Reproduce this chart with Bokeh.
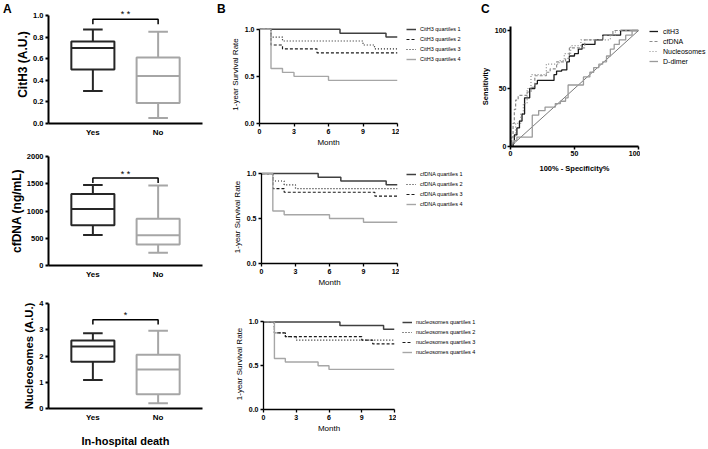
from bokeh.plotting import figure
from bokeh.layouts import row, column
from bokeh.models import FixedTicker, NumeralTickFormatter, Legend, LegendItem, Range1d, Div
from bokeh.core.properties import value
from bokeh.embed import file_html
from bokeh.resources import INLINE

FONT = "Liberation Sans"
DARK = "#262626"
GRAY = "#a6a6a6"

# ---------------- data ----------------
groups = ["Yes", "No"]
group_pos = [1, 2]
# five-number summaries: min, q1, median, q3, max
cith3_yes = [0.30, 0.50, 0.70, 0.76, 0.87]
cith3_no = [0.05, 0.19, 0.44, 0.61, 0.85]
cfdna_yes = [560, 740, 1035, 1310, 1475]
cfdna_no = [235, 385, 555, 860, 1470]
nuc_yes = [1.09, 1.78, 2.36, 2.59, 2.87]
nuc_no = [0.20, 0.54, 1.49, 2.05, 2.96]
cith3_ticks = [0, 0.2, 0.4, 0.6, 0.8, 1.0]
cfdna_ticks = [0, 500, 1000, 1500, 2000]
nuc_ticks = [0, 1, 2, 3, 4]

month_ticks = [0, 3, 6, 9, 12]
surv_ticks = [0, 0.5, 1.0]
# Kaplan-Meier steps (time in months, survival)
km_cith3 = {
    "t1": [0, 7, 11, 12], "s1": [1, 0.958, 0.917, 0.917],
    "t2": [0, 1, 2, 5, 12], "s2": [1, 0.833, 0.792, 0.75, 0.75],
    "t3": [0, 1, 2, 9, 10, 12], "s3": [1, 0.917, 0.875, 0.833, 0.792, 0.792],
    "t4": [0, 1, 2, 3, 6, 12], "s4": [1, 0.583, 0.542, 0.5, 0.458, 0.458],
}
km_cfdna = {
    "t1": [0, 5, 7, 11, 12], "s1": [1, 0.958, 0.917, 0.875, 0.875],
    "t2": [0, 1, 2, 3, 12], "s2": [1, 0.917, 0.875, 0.833, 0.833],
    "t3": [0, 1, 2, 10, 12], "s3": [1, 0.833, 0.792, 0.75, 0.75],
    "t4": [0, 1, 2, 6, 9, 12], "s4": [1, 0.583, 0.542, 0.5, 0.458, 0.458],
}
km_nuc = {
    "t1": [0, 7, 11, 12], "s1": [1, 0.958, 0.917, 0.917],
    "t2": [0, 1, 2, 3, 12], "s2": [1, 0.875, 0.833, 0.792, 0.792],
    "t3": [0, 1, 2, 9, 10, 12], "s3": [1, 0.875, 0.833, 0.792, 0.75, 0.75],
    "t4": [0, 1, 2, 5, 6, 12], "s4": [1, 0.583, 0.542, 0.5, 0.458, 0.458],
}
cith3_labels = ["CitH3 quartiles 1", "CitH3 quartiles 2", "CitH3 quartiles 3", "CitH3 quartiles 4"]
cfdna_labels = ["cfDNA quartiles 1", "cfDNA quartiles 2", "cfDNA quartiles 3", "cfDNA quartiles 4"]
nuc_labels = ["nucleosomes quartiles 1", "nucleosomes quartiles 2", "nucleosomes quartiles 3", "nucleosomes quartiles 4"]

# ROC curves (100% - specificity, sensitivity)
roc_cith3_x = [0, 2, 2, 3, 3, 5, 5, 7, 7, 9, 9, 11, 11, 15, 15, 19, 19, 21, 21, 34, 34, 36, 36, 40, 40, 44, 44, 46, 46, 50, 50, 53, 53, 56, 56, 66, 66, 72, 72, 86, 86, 100]
roc_cith3_y = [0, 0, 3, 3, 10, 10, 16, 16, 22, 22, 28, 28, 42, 42, 50, 50, 54, 54, 57, 57, 62, 62, 65, 65, 66, 66, 73, 73, 78, 78, 80, 80, 84, 84, 88, 88, 92, 92, 96, 96, 100, 100]
roc_cfdna_x = [0, 1, 1, 2, 2, 3, 3, 4, 4, 6, 6, 13, 13, 16, 16, 19, 19, 28, 28, 31, 31, 36, 36, 43, 43, 46, 46, 58, 58, 72, 72, 80, 80, 100]
roc_cfdna_y = [0, 0, 8, 8, 20, 20, 32, 32, 40, 40, 44, 44, 47, 47, 51, 51, 61, 61, 64, 64, 67, 67, 73, 73, 76, 76, 85, 85, 92, 92, 96, 96, 100, 100]
roc_nuc_x = [0, 1, 1, 4, 4, 8, 8, 10, 10, 13, 13, 16, 16, 28, 28, 38, 38, 42, 42, 47, 47, 55, 55, 78, 78, 82, 82, 100]
roc_nuc_y = [0, 0, 8, 8, 20, 20, 28, 28, 37, 37, 50, 50, 62, 62, 71, 71, 74, 74, 80, 80, 87, 87, 92, 92, 96, 96, 100, 100]
roc_dd_x = [0, 1, 1, 3, 3, 5, 5, 17, 17, 22, 22, 27, 27, 35, 35, 39, 39, 43, 43, 45, 45, 57, 57, 62, 62, 65, 65, 69, 69, 72, 72, 75, 75, 78, 78, 81, 81, 85, 85, 90, 90, 95, 95, 100]
roc_dd_y = [0, 0, 3, 3, 5, 5, 8, 8, 27, 27, 31, 31, 34, 34, 37, 37, 39, 39, 42, 42, 53, 53, 60, 60, 64, 64, 68, 68, 71, 71, 73, 73, 78, 78, 84, 84, 88, 88, 92, 92, 96, 96, 100, 100]
ref_x = [0, 100]
ref_y = [0, 100]
roc_labels = ["citH3", "cfDNA", "Nucleosomes", "D-dimer"]
roc_ticks = [0, 50, 100]
panel_letters = ["A", "B", "C"]


def base_fig(w, h, xr, yr, bl, br, bt, bb, axes=True):
    kw = {} if axes else dict(x_axis_type=None, y_axis_type=None)
    p = figure(width=w, height=h, x_range=Range1d(*xr), y_range=Range1d(*yr),
               output_backend="svg", toolbar_location=None,
               min_border_left=bl, min_border_right=br, min_border_top=bt, min_border_bottom=bb, **kw)
    p.outline_line_color = None
    p.grid.visible = False
    p.background_fill_color = "white"
    p.border_fill_color = "white"
    if axes:
        for ax in (p.xaxis[0], p.yaxis[0]):
            ax.minor_tick_line_color = None
            ax.axis_line_color = "black"
            ax.major_tick_line_color = "black"
            ax.major_label_text_font = FONT
            ax.axis_label_text_font = FONT
            ax.major_label_text_color = "black"
            ax.axis_label_text_color = "black"
    return p


def make_legend(items, font_size, row_h, spacing, glyph_w, standoff):
    return Legend(items=items, location="top_left", background_fill_alpha=0,
                  border_line_alpha=0, padding=0, margin=0, spacing=spacing,
                  glyph_width=glyph_w, glyph_height=row_h, label_height=row_h,
                  label_standoff=standoff, label_text_font=FONT,
                  label_text_font_size=font_size, label_text_color="black")


BW = 0.33
CW = 0.15


def box_panel(h, bt, bb, y_end, y_top, yticks, fmt, ylabel, ylabel_size, lab_standoff,
              yes, no, br_y, br_low, star_y, stars, xlabel=None):
    p = base_fig(222, h, (0.32, 2.68), (0, y_end), 48, 20, bt, bb)
    for pos, st, col in zip(group_pos, [yes, no], [DARK, GRAY]):
        mn, q1, md, q3, mx = st
        p.quad(left=[pos - BW], right=[pos + BW], bottom=[q1], top=[q3],
               fill_color=None, line_color=col, line_width=2)
        p.segment(x0=[pos - BW, pos, pos, pos - CW, pos - CW],
                  x1=[pos + BW, pos, pos, pos + CW, pos + CW],
                  y0=[md, mn, q3, mn, mx], y1=[md, q1, mx, mn, mx],
                  line_color=col, line_width=2)
    p.line(x=[group_pos[0], group_pos[0], group_pos[1], group_pos[1]],
           y=[br_low, br_y, br_y, br_low], line_color="black", line_width=1.5)
    p.text(x=[(group_pos[0] + group_pos[1]) / 2], y=[star_y], text=[stars],
           text_align="center", text_baseline="middle", text_font=value(FONT),
           text_font_size="9px", text_color="black")
    xa, ya = p.xaxis[0], p.yaxis[0]
    xa.ticker = FixedTicker(ticks=group_pos)
    xa.major_label_overrides = {group_pos[0]: groups[0], group_pos[1]: groups[1]}
    xa.major_tick_line_color = None
    xa.major_tick_out = 0
    xa.major_tick_in = 0
    xa.axis_line_width = 2
    xa.major_label_text_font_size = "8px"
    xa.major_label_text_font_style = "bold"
    xa.major_label_standoff = 4
    ya.ticker = FixedTicker(ticks=yticks)
    if fmt:
        ya.formatter = NumeralTickFormatter(format=fmt)
    ya.bounds = (0, y_top)
    ya.axis_line_width = 2
    ya.major_tick_line_width = 2
    ya.major_tick_out = 3
    ya.major_tick_in = 0
    ya.major_label_text_font_size = "7.5px"
    ya.major_label_text_font_style = "bold"
    ya.major_label_standoff = 2
    ya.axis_label = ylabel
    ya.axis_label_text_font_size = ylabel_size
    ya.axis_label_text_font_style = "bold"
    ya.axis_label_standoff = lab_standoff
    if xlabel:
        xa.axis_label = xlabel
        xa.axis_label_text_font_size = "11px"
        xa.axis_label_text_font_style = "bold"
        xa.axis_label_standoff = 10
    return p


def km_panel(w, h, bl, bt, bb, y_end, km, labels, styles, leg_left, leg_top):
    p = base_fig(w, h, (0, 12), (0, y_end), bl, 2, bt, bb)
    # legend lives in a separate axis-free figure to the right (same series, drawn off-range)
    q = base_fig(254 - w, h, (0, 1), (5, 6), leg_left, 0, leg_top, 0, axes=False)
    items = []
    for i, (lab, st) in enumerate(zip(labels, styles)):
        col, dash, lw = st
        t, s = km["t%d" % (i + 1)], km["s%d" % (i + 1)]
        p.step(x=t, y=s, mode="after", line_color=col, line_dash=dash, line_width=lw)
        r = q.step(x=t, y=s, mode="after", line_color=col, line_dash=dash, line_width=lw)
        items.append(LegendItem(label=lab, renderers=[r]))
    q.add_layout(make_legend(items, "5.5px", 8, 2, 10, 4))
    xa, ya = p.xaxis[0], p.yaxis[0]
    for ax in (xa, ya):
        ax.axis_line_width = 1.3
        ax.major_tick_line_width = 1.3
        ax.major_tick_out = 3
        ax.major_tick_in = 0
        ax.major_label_text_font_size = "7px"
        ax.major_label_text_font_style = "bold"
        ax.major_label_standoff = 2
        ax.axis_label_text_font_size = "8px"
        ax.axis_label_text_font_style = "normal"
        ax.axis_label_standoff = 2
    xa.axis_label_standoff = 1
    xa.ticker = FixedTicker(ticks=month_ticks)
    xa.axis_label = "Month"
    ya.ticker = FixedTicker(ticks=surv_ticks)
    ya.formatter = NumeralTickFormatter(format="0.0")
    ya.bounds = (0, 1)
    ya.axis_label = "1-year Survival Rate"
    return row(p, q, spacing=0)


# ---------------- panel A ----------------
a1 = box_panel(150, 5, 27, 1.0926, 1.0, cith3_ticks, "0.0", "CitH3 (A.U.)", "12px", 0,
               cith3_yes, cith3_no, 0.965, 0.92, 1.015, "* *")
a2 = box_panel(150, 6, 35, 2000, 2000, cfdna_ticks, None, "cfDNA (ng/mL)", "12px", 0,
               cfdna_yes, cfdna_no, 1605, 1515, 1680, "* *")
a3 = box_panel(149, 3, 39, 4, 4, nuc_ticks, None, "Nucleosomes (A.U.)", "11.3px", 1,
               nuc_yes, nuc_no, 3.38, 3.2, 3.58, "*", xlabel="In-hospital death")

# ---------------- panel B ----------------
st_a = [("#404040", "solid", 1.5), ("#1a1a1a", "3 2", 1.2), ("#1a1a1a", "1 2", 1.2), (GRAY, "solid", 1.4)]
st_b = [("#404040", "solid", 1.5), ("#1a1a1a", "1 2", 1.2), ("#1a1a1a", "3 2", 1.2), (GRAY, "solid", 1.4)]
b1 = km_panel(177, 153, 37, 18, 30, 1.0396, km_cith3, cith3_labels, st_a, 7, 25)
b2 = km_panel(177, 147, 39, 6, 37, 1.0338, km_cfdna, cfdna_labels, st_b, 7, 17)
b3 = km_panel(174, 149, 41, 10, 40, 1.039, km_nuc, nuc_labels, st_b, 6, 18)

# ---------------- panel C ----------------
c = base_fig(164, 449, (0, 100), (0, 103.45), 34, 2, 26, 303)
cl = base_fig(68, 449, (0, 1), (500, 501), 9, 0, 26, 0, axes=False)
c.line(x=ref_x, y=ref_y, line_color="#555555", line_width=0.8)
roc_series = [(roc_cith3_x, roc_cith3_y, "#1a1a1a", "solid", 1.3),
              (roc_cfdna_x, roc_cfdna_y, "#8c8c8c", "3 2", 1.2),
              (roc_nuc_x, roc_nuc_y, "#8c8c8c", "1 2", 1.2),
              (roc_dd_x, roc_dd_y, "#9a9a9a", "solid", 1.3)]
roc_items = []
for lab, (xs, ys, col, dash, lw) in zip(roc_labels, roc_series):
    c.line(x=xs, y=ys, line_color=col, line_dash=dash, line_width=lw)
    r = cl.line(x=xs, y=ys, line_color=col, line_dash=dash, line_width=lw)
    roc_items.append(LegendItem(label=lab, renderers=[r]))
cl.add_layout(make_legend(roc_items, "7px", 10, 0, 9, 5))
for ax in (c.xaxis[0], c.yaxis[0]):
    ax.axis_line_width = 2
    ax.major_tick_line_width = 1.5
    ax.major_tick_out = 3
    ax.major_tick_in = 0
    ax.major_label_text_font_size = "7px"
    ax.major_label_text_font_style = "bold"
    ax.major_label_standoff = 1
    ax.axis_label_text_font_size = "7.5px"
    ax.axis_label_text_font_style = "bold"
    ax.axis_label_standoff = 2
    ax.ticker = FixedTicker(ticks=roc_ticks)
c.xaxis[0].axis_label_standoff = 5
c.xaxis[0].axis_label = "100% - Specificity%"
c.yaxis[0].axis_label = "Sensitivity"

# ---------------- panel letters (overlay) ----------------
letter_left = [3, 217, 481]
spans = "".join(
    '<span style="position:absolute;left:%dpx;top:3px;line-height:12px;">%s</span>' % (x, t)
    for x, t in zip(letter_left, panel_letters))
letters = Div(text='<div style="position:relative;width:708px;height:18px;font-family:\'Liberation Sans\',Arial,sans-serif;'
                   'font-weight:bold;font-size:12px;color:black;">' + spans + '</div>',
              width=708, height=18, margin=(-449, 0, 0, 0))

layout = column(row(column(a1, a2, a3, spacing=0), column(b1, b2, b3, spacing=0),
                    row(c, cl, spacing=0), spacing=0),
                letters, spacing=0)
open("out.html", "w").write(file_html(layout, INLINE))
